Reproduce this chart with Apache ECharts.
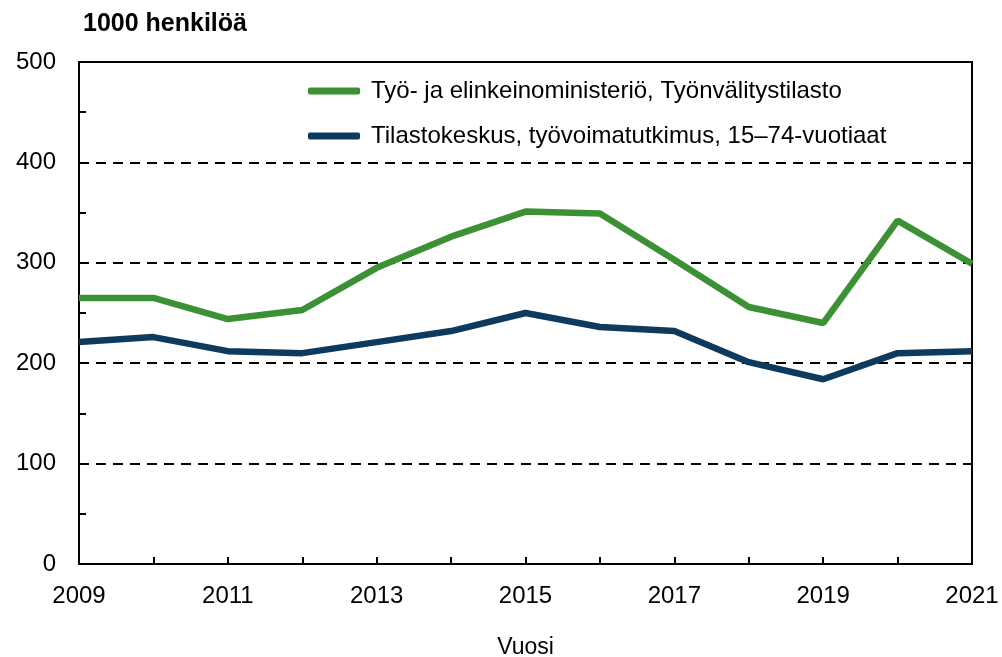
<!DOCTYPE html>
<html>
<head>
<meta charset="utf-8">
<script src="https://cdn.jsdelivr.net/npm/echarts@6/dist/echarts.min.js"></script>
<style>
  html, body { margin: 0; padding: 0; background: #fff; }
  #chart { width: 1002px; height: 657px; }
</style>
</head>
<body>
<div id="chart"></div>
<script>
// vuodet ja sarjat
const years = ['2009', '2010', '2011', '2012', '2013', '2014', '2015', '2016', '2017', '2018', '2019', '2020', '2021'];
const temName = 'Työ- ja elinkeinoministeriö, Työnvälitystilasto';
const tkName = 'Tilastokeskus, työvoimatutkimus, 15–74-vuotiaat';
const temValues = [265, 265, 244, 253, 295, 326, 351, 349, 303, 256, 240, 342, 299];
const tkValues = [221, 226, 212, 210, 221, 232, 250, 236, 232, 201, 184, 210, 212];

const chart = echarts.init(document.getElementById('chart'));

const font = 'Arial, "Liberation Sans", sans-serif';

chart.setOption({
    animation: false,
    textStyle: { fontFamily: font },
    title: {
        text: '1000 henkilöä',
        left: 78,
        top: 7,
        textStyle: { fontFamily: font, fontSize: 25, fontWeight: 'bold', color: '#000' }
    },
    legend: {
        orient: 'vertical',
        left: 303,
        top: 74,
        itemWidth: 52,
        itemHeight: 7,
        itemGap: 21,
        icon: 'roundRect',
        textStyle: { fontFamily: font, fontSize: 24, color: '#000', padding: [0, 0, 0, 6] },
        data: [temName, tkName]
    },
    grid: {
        left: 79,
        right: 30,
        top: 62,
        bottom: 93,
        outerBoundsMode: 'none',
        show: true,
        borderColor: '#000',
        borderWidth: 2
    },
    xAxis: {
        type: 'category',
        boundaryGap: false,
        data: years,
        name: 'Vuosi',
        nameLocation: 'middle',
        nameGap: 72,
        nameTextStyle: { fontFamily: font, fontSize: 23, color: '#000' },
        axisLine: { lineStyle: { color: '#000', width: 2 } },
        axisTick: { inside: true, length: 7, interval: 0, lineStyle: { color: '#000', width: 2 } },
        axisLabel: { interval: 1, fontSize: 24, color: '#000', margin: 20, fontFamily: font },
        splitLine: { show: false }
    },
    yAxis: {
        type: 'value',
        min: 0,
        max: 500,
        interval: 100,
        axisLine: { show: true, lineStyle: { color: '#000', width: 2 } },
        axisTick: { show: true, inside: true, length: 7, lineStyle: { color: '#000', width: 2 } },
        minorTick: { show: true, splitNumber: 2, length: 7, lineStyle: { color: '#000', width: 2 } },
        axisLabel: { fontSize: 24, color: '#000', margin: 23, fontFamily: font },
        splitLine: { show: true, lineStyle: { color: '#000', width: 2, type: [10, 7] } }
    },
    series: [
        {
            name: temName,
            type: 'line',
            data: temValues,
            symbol: 'none',
            color: '#3d9135',
            lineStyle: { width: 6.5, color: '#3d9135' }
        },
        {
            name: tkName,
            type: 'line',
            data: tkValues,
            symbol: 'none',
            color: '#0e3a5e',
            lineStyle: { width: 6.5, color: '#0e3a5e' }
        }
    ]
});
</script>
</body>
</html>
